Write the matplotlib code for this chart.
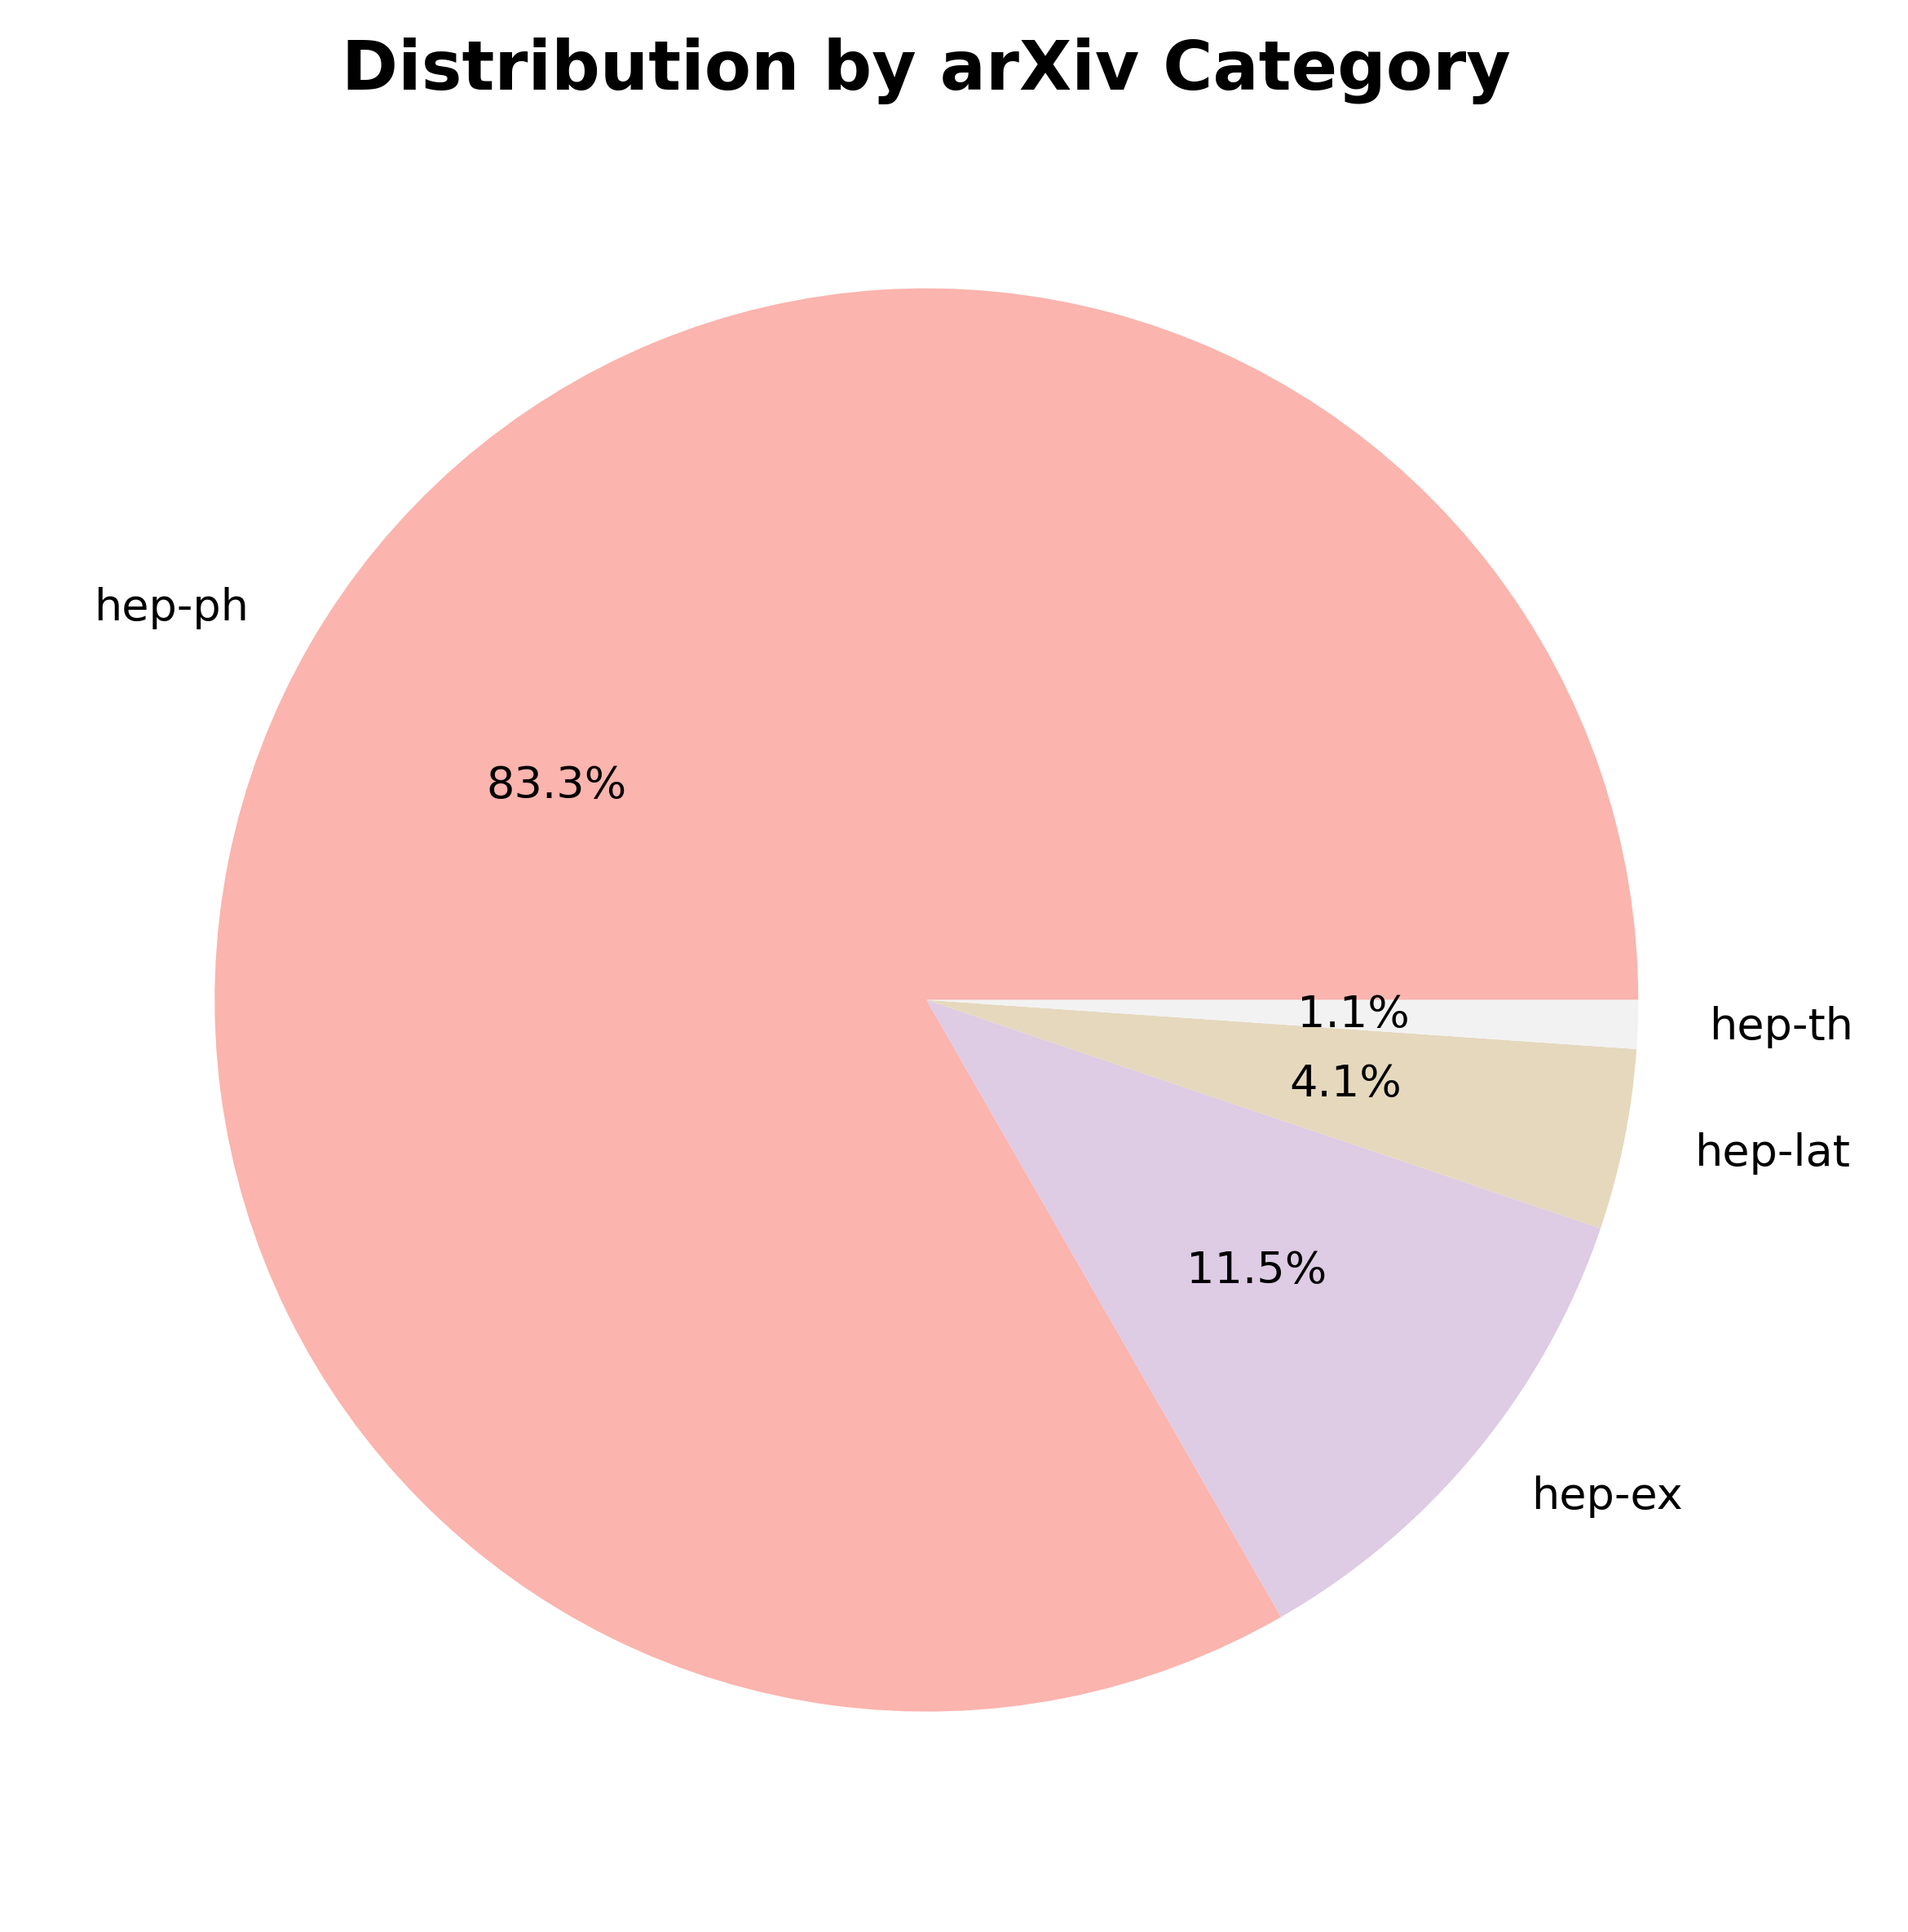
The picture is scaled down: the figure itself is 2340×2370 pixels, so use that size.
import numpy as np
import matplotlib.pyplot as plt

categories = ['hep-ph', 'hep-ex', 'hep-lat', 'hep-th']
shares = [83.3, 11.5, 4.1, 1.1]

colors = plt.cm.Pastel1(np.linspace(0, 1, len(categories)))

fig, ax = plt.subplots(figsize=(7.8, 7.9), dpi=300)
ax.pie(shares, labels=categories, colors=colors, autopct='%1.1f%%',
       textprops={'fontsize': 13})
ax.set_title('Distribution by arXiv Category', fontsize=20, fontweight='bold')
plt.tight_layout()
plt.savefig('out.png')
